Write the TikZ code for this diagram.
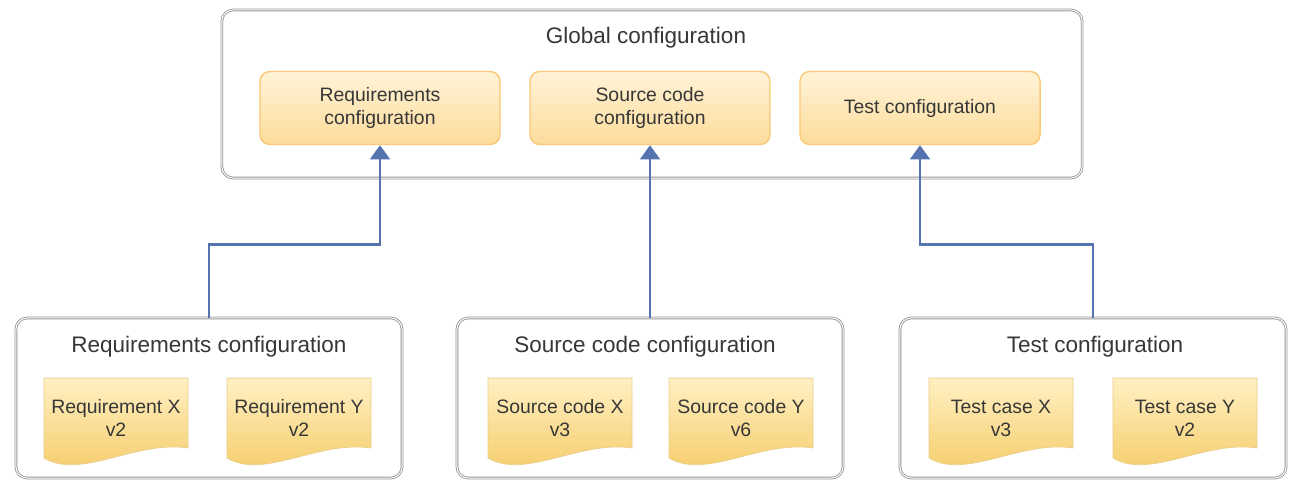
\documentclass[tikz,border=0pt]{standalone}
\usepackage{fontspec}
\setmainfont{Liberation Sans}
\usetikzlibrary{arrows.meta}

\definecolor{txtgray}{RGB}{55,55,55}
\definecolor{boxgray}{RGB}{150,150,150}
\definecolor{cfgline}{RGB}{250,200,120}
\definecolor{cfgtop}{RGB}{255,243,215}
\definecolor{cfgbot}{RGB}{253,220,155}
\definecolor{docline}{RGB}{235,205,140}
\definecolor{doctop}{RGB}{255,240,195}
\definecolor{docbot}{RGB}{245,202,100}
\definecolor{linkblue}{RGB}{85,115,175}

\begin{document}
\begin{tikzpicture}[x=0.025cm,y=-0.025cm,
  text=txtgray,
  outerbox/.style={draw=boxgray, double=white, double distance=0.7pt, line width=0.6pt,
    rounded corners=8pt, fill=white},
  cfgbox/.style={draw=cfgline, line width=1pt, rounded corners=7pt,
    top color=cfgtop, bottom color=cfgbot, minimum width=6cm, minimum height=1.825cm,
    align=center, font=\fontsize{13.8}{16.4}\selectfont},
  title/.style={font=\fontsize{16}{19}\selectfont},
  link/.style={draw=linkblue, line width=1.6pt, -{Triangle[width=14pt,length=10pt]}}
]
\useasboundingbox (0,0) rectangle (1292,481);

% global configuration
\node[outerbox, minimum width=21.5cm, minimum height=4.2cm] (global) at (652,94) {};
\node[title] (gtitle) at (646,38) {Global configuration};
\node[cfgbox] (greq) at (380,108) {Requirements\\configuration};
\node[cfgbox] (gsrc) at (650,108) {Source code\\configuration};
\node[cfgbox] (gtest) at (920,108) {Test configuration};

% partial configurations
\node[outerbox, minimum width=9.65cm, minimum height=4cm] (reqcfg) at (209,398) {};
\node[outerbox, minimum width=9.65cm, minimum height=4cm] (srccfg) at (650,398) {};
\node[outerbox, minimum width=9.65cm, minimum height=4cm] (testcfg) at (1093,398) {};
\node[title] (reqtitle) at (209,347) {Requirements configuration};
\node[title] (srctitle) at (645,347) {Source code configuration};
\node[title] (testtitle) at (1095,347) {Test configuration};

% documents
\foreach \n/\x/\t/\v in {rx/116/Requirement X/v2, ry/299/Requirement Y/v2,
                         sx/560/Source code X/v3, sy/741/Source code Y/v6,
                         tx/1001/Test case X/v3, ty/1185/Test case Y/v2}
{
    \path[draw=docline, line width=0.5pt, top color=doctop, bottom color=docbot]
      (\x-72,378) -- (\x+72,378) -- (\x+72,448)
      .. controls (\x+20,440) and (\x-35,480) .. (\x-72,458) -- cycle;
    \node[align=center, font=\fontsize{13.8}{16.4}\selectfont] (\n) at (\x,418) {\t\\\v};
}

% links
\draw[link] (reqcfg.north) -- ++(0,-73) -| (greq.south);
\draw[link] (srccfg.north) -- (gsrc.south);
\draw[link] (testcfg.north) -- ++(0,-73) -| (gtest.south);
\end{tikzpicture}
\end{document}
